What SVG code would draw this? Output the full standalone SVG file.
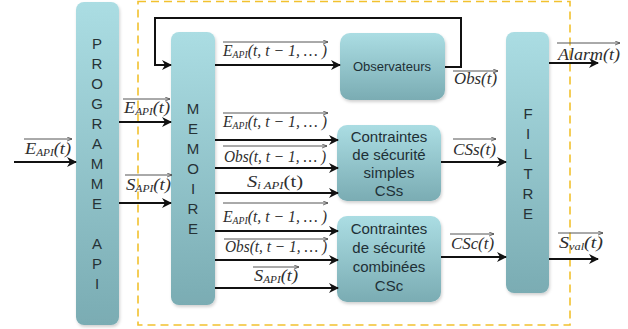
<svg xmlns="http://www.w3.org/2000/svg" width="628" height="329" viewBox="0 0 628 329">
<defs>
<linearGradient id="g" x1="0" y1="0" x2="0" y2="1">
<stop offset="0" stop-color="#abdde3"/>
<stop offset="1" stop-color="#7aacb3"/>
</linearGradient>
<filter id="sh" x="-20%" y="-20%" width="140%" height="140%">
<feDropShadow dx="1" dy="2" stdDeviation="1.5" flood-color="#000" flood-opacity="0.18"/>
</filter>
<marker id="ah" viewBox="0 0 10 10" refX="9" refY="5" markerWidth="5" markerHeight="5" orient="auto" markerUnits="strokeWidth">
<path d="M0,0 L10,5 L0,10 L3,5 Z" fill="#111"/>
</marker>
<marker id="vh" viewBox="0 0 10 10" refX="10" refY="5" markerWidth="5" markerHeight="5" orient="auto" markerUnits="userSpaceOnUse">
<path d="M0,1 L10,5 L0,9" fill="none" stroke="#444" stroke-width="1.5"/>
</marker>
</defs>
<style>
.box{fill:url(#g);filter:url(#sh)}
.v{font-family:"Liberation Sans",Arial,sans-serif;font-size:15px;fill:#263236;text-anchor:middle}
.bt{font-family:"Liberation Sans",Arial,sans-serif;font-size:15px;fill:#1e3036;text-anchor:middle}
.m{font-family:"Liberation Serif","Times New Roman",serif;font-style:italic;font-size:17px;fill:#2e2e2e}
.sub{font-size:10.5px}
.ol{stroke:#555;stroke-width:1;marker-end:url(#vh)}
.c{stroke:#111;stroke-width:2;fill:none;marker-end:url(#ah)}
</style>

<rect x="138" y="1.5" width="432" height="323.5" fill="none" stroke="#f2c12e" stroke-width="1.6" stroke-dasharray="8,5"/>

<g id="programme">
<rect class="box" x="76" y="2" width="43" height="323" rx="8"/>
<text class="v"><tspan x="97" y="49">P</tspan><tspan x="97" y="69">R</tspan><tspan x="97" y="89">O</tspan><tspan x="97" y="109">G</tspan><tspan x="97" y="129">R</tspan><tspan x="97" y="149">A</tspan><tspan x="97" y="169">M</tspan><tspan x="97" y="189">M</tspan><tspan x="97" y="209">E</tspan><tspan x="97" y="249">A</tspan><tspan x="97" y="269">P</tspan><tspan x="97" y="289">I</tspan></text>
</g>

<g id="memoire">
<rect class="box" x="171" y="32" width="44" height="273" rx="8"/>
<text class="v"><tspan x="193" y="114">M</tspan><tspan x="193" y="134">E</tspan><tspan x="193" y="154">M</tspan><tspan x="193" y="174">O</tspan><tspan x="193" y="194">I</tspan><tspan x="193" y="214">R</tspan><tspan x="193" y="234">E</tspan></text>
</g>

<g id="observateurs">
<rect class="box" x="340" y="33" width="105" height="67" rx="10"/>
<text class="bt" x="392" y="71" style="font-size:13px">Observateurs</text>
</g>

<g id="css">
<rect class="box" x="337" y="125" width="104" height="76" rx="10"/>
<text class="bt"><tspan x="389" y="142">Contraintes</tspan><tspan x="389" y="160">de sécurité</tspan><tspan x="389" y="178">simples</tspan><tspan x="389" y="196">CSs</tspan></text>
</g>

<g id="csc">
<rect class="box" x="337" y="216" width="104" height="86" rx="10"/>
<text class="bt"><tspan x="389" y="234">Contraintes</tspan><tspan x="389" y="253">de sécurité</tspan><tspan x="389" y="272">combinées</tspan><tspan x="389" y="291">CSc</tspan></text>
</g>

<g id="filtre">
<rect class="box" x="506" y="32" width="43" height="261" rx="8"/>
<text class="v"><tspan x="528" y="119">F</tspan><tspan x="528" y="139">I</tspan><tspan x="528" y="159">L</tspan><tspan x="528" y="179">T</tspan><tspan x="528" y="199">R</tspan><tspan x="528" y="219">E</tspan></text>
</g>

<g id="connectors">
<line class="c" x1="14" y1="162" x2="76" y2="162"/>
<line class="c" x1="119" y1="122" x2="171" y2="122"/>
<line class="c" x1="119" y1="203" x2="171" y2="203"/>
<line class="c" x1="215" y1="65" x2="340" y2="65"/>
<polyline class="c" points="445,67 461,67 461,18 155,18 155,65 171,65"/>
<line class="c" x1="215" y1="140" x2="338" y2="140"/>
<line class="c" x1="215" y1="168" x2="338" y2="168"/>
<line class="c" x1="215" y1="193" x2="338" y2="193"/>
<line class="c" x1="215" y1="231" x2="338" y2="231"/>
<line class="c" x1="215" y1="260" x2="338" y2="260"/>
<line class="c" x1="215" y1="288" x2="338" y2="288"/>
<line class="c" x1="441" y1="162" x2="506" y2="162"/>
<line class="c" x1="441" y1="257" x2="506" y2="257"/>
<line class="c" x1="549" y1="63" x2="598" y2="63"/>
<line class="c" x1="549" y1="259" x2="598" y2="259"/>
</g>

<g id="labels">
<line class="ol" x1="24" y1="139" x2="72" y2="139"/>
<text class="m" x="25" y="154" textLength="46" lengthAdjust="spacingAndGlyphs">E<tspan class="sub" dy="2">API</tspan><tspan dy="-2">(t)</tspan></text>

<line class="ol" x1="123" y1="99" x2="170" y2="99"/>
<text class="m" x="124" y="113" textLength="46" lengthAdjust="spacingAndGlyphs">E<tspan class="sub" dy="2">API</tspan><tspan dy="-2">(t)</tspan></text>

<line class="ol" x1="125" y1="175" x2="172" y2="175"/>
<text class="m" x="126" y="190" textLength="45" lengthAdjust="spacingAndGlyphs">S<tspan class="sub" dy="2">API</tspan><tspan dy="-2">(t)</tspan></text>

<line class="ol" x1="223" y1="42" x2="328" y2="42"/>
<text class="m" x="223" y="56" textLength="104" lengthAdjust="spacingAndGlyphs">E<tspan class="sub" dy="2">API</tspan><tspan dy="-2">(t, t − 1, … )</tspan></text>

<line class="ol" x1="223" y1="113" x2="328" y2="113"/>
<text class="m" x="223" y="127" textLength="104" lengthAdjust="spacingAndGlyphs">E<tspan class="sub" dy="2">API</tspan><tspan dy="-2">(t, t − 1, … )</tspan></text>

<line class="ol" x1="223" y1="146" x2="327" y2="146"/>
<text class="m" x="224" y="162" textLength="102" lengthAdjust="spacingAndGlyphs">Obs(t, t − 1, … )</text>

<text class="m" x="247" y="187" textLength="56" lengthAdjust="spacingAndGlyphs">S<tspan class="sub" dy="2">i API</tspan><tspan dy="-2" font-style="normal">(t)</tspan></text>

<line class="ol" x1="223" y1="203" x2="328" y2="203"/>
<text class="m" x="223" y="222" textLength="104" lengthAdjust="spacingAndGlyphs">E<tspan class="sub" dy="2">API</tspan><tspan dy="-2">(t, t − 1, … )</tspan></text>

<line class="ol" x1="224" y1="239" x2="328" y2="239"/>
<text class="m" x="225" y="252" textLength="102" lengthAdjust="spacingAndGlyphs">Obs(t, t − 1, … )</text>

<line class="ol" x1="253" y1="267" x2="299" y2="267"/>
<text class="m" x="254" y="281" textLength="44" lengthAdjust="spacingAndGlyphs">S<tspan class="sub" dy="2">API</tspan><tspan dy="-2">(t)</tspan></text>

<line class="ol" x1="453" y1="71" x2="498" y2="71"/>
<text class="m" x="454" y="84" textLength="43" lengthAdjust="spacingAndGlyphs">Obs(t)</text>

<line class="ol" x1="453" y1="139" x2="496" y2="139"/>
<text class="m" x="453" y="155" textLength="43" lengthAdjust="spacingAndGlyphs">CSs(t)</text>

<line class="ol" x1="450" y1="234" x2="494" y2="234"/>
<text class="m" x="451" y="249" textLength="43" lengthAdjust="spacingAndGlyphs">CSc(t)</text>

<line class="ol" x1="557" y1="43" x2="620" y2="43"/>
<text class="m" x="558" y="60" textLength="62" lengthAdjust="spacingAndGlyphs">Alarm(t)</text>

<line class="ol" x1="558" y1="233" x2="603" y2="233"/>
<text class="m" x="559" y="248" textLength="44" lengthAdjust="spacingAndGlyphs">S<tspan class="sub" dy="2">val</tspan><tspan dy="-2">(t)</tspan></text>
</g>
</svg>
